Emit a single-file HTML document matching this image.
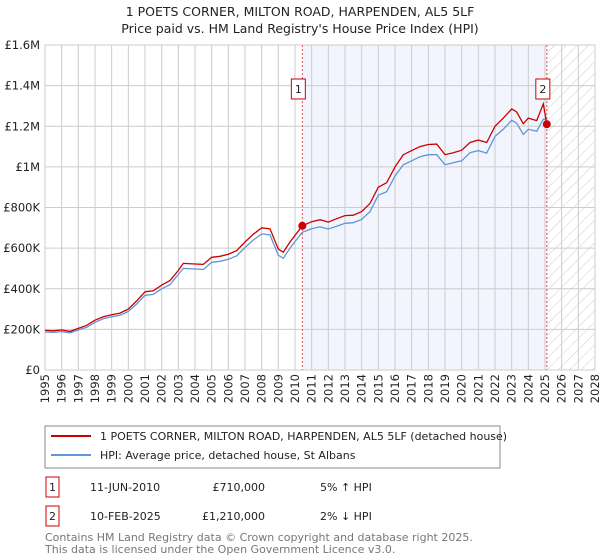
<!DOCTYPE html>
<html><head><meta charset="utf-8"><style>
body{margin:0;background:#fff;font-family:"DejaVu Sans","Liberation Sans",sans-serif;}
svg{display:block}
</style></head><body>
<svg id="c" width="600" height="560" xmlns="http://www.w3.org/2000/svg" font-family="DejaVu Sans, Liberation Sans, sans-serif">
<defs><pattern id="hatch" width="8" height="8" patternUnits="userSpaceOnUse" patternTransform="rotate(45)"><line x1="0" y1="0" x2="0" y2="8" stroke="#ccc" stroke-width="1"/></pattern></defs>
<text x="300" y="16" text-anchor="middle" font-size="12.5" fill="#222">1 POETS CORNER, MILTON ROAD, HARPENDEN, AL5 5LF</text>
<text x="300" y="33" text-anchor="middle" font-size="12.5" fill="#222">Price paid vs. HM Land Registry's House Price Index (HPI)</text>
<g id="plot"></g>
<rect x="45" y="426" width="455" height="42" fill="#fff" stroke="#888"/>
<line x1="51" y1="436" x2="91" y2="436" stroke="#cc0000" stroke-width="2"/>
<text x="100" y="440" font-size="11" fill="#222">1 POETS CORNER, MILTON ROAD, HARPENDEN, AL5 5LF (detached house)</text>
<line x1="51" y1="455" x2="91" y2="455" stroke="#6095d8" stroke-width="2"/>
<text x="100" y="459" font-size="11" fill="#222">HPI: Average price, detached house, St Albans</text>
<rect x="46" y="477" width="13" height="20" fill="#fff" stroke="#cc0000"/>
<text x="52.5" y="491" text-anchor="middle" font-size="11" fill="#222">1</text>
<text x="90" y="491" font-size="11" fill="#222">11-JUN-2010</text>
<text x="265" y="491" text-anchor="end" font-size="11" fill="#222">£710,000</text>
<text x="320" y="491" font-size="11" fill="#222">5% ↑ HPI</text>
<rect x="46" y="506" width="13" height="20" fill="#fff" stroke="#cc0000"/>
<text x="52.5" y="520" text-anchor="middle" font-size="11" fill="#222">2</text>
<text x="90" y="520" font-size="11" fill="#222">10-FEB-2025</text>
<text x="265" y="520" text-anchor="end" font-size="11" fill="#222">£1,210,000</text>
<text x="320" y="520" font-size="11" fill="#222">2% ↓ HPI</text>
<text x="45" y="541" font-size="11" fill="#777">Contains HM Land Registry data © Crown copyright and database right 2025.</text>
<text x="45" y="553" font-size="11" fill="#777">This data is licensed under the Open Government Licence v3.0.</text>
</svg>
<script>
const years=[1995,1995.5,1996,1996.5,1997,1997.5,1998,1998.5,1999,1999.5,2000,2000.5,2001,2001.5,2002,2002.5,2003,2003.3,2004,2004.5,2005,2005.5,2006,2006.5,2007,2007.5,2008,2008.5,2009,2009.3,2009.7,2010.44,2011,2011.5,2012,2012.5,2013,2013.5,2014,2014.5,2015,2015.5,2016,2016.5,2017,2017.5,2018,2018.5,2019,2019.5,2020,2020.5,2021,2021.5,2022,2022.5,2023,2023.3,2023.7,2024,2024.5,2024.9,2025.11];
const propertyValues=[195,193,197,190,205,220,245,262,272,280,300,340,385,390,418,440,490,525,522,520,555,560,570,588,630,668,700,695,595,580,630,710,730,740,728,745,760,762,780,820,900,922,1000,1060,1080,1100,1110,1112,1060,1070,1082,1120,1132,1120,1200,1240,1285,1270,1212,1240,1228,1310,1210];
const hpiValues=[187,185,189,183,197,210,235,252,262,270,288,325,368,372,400,420,470,500,497,495,530,535,545,562,603,640,670,665,565,550,600,678,695,705,694,708,722,725,742,780,860,878,955,1010,1030,1050,1060,1060,1010,1020,1030,1070,1080,1068,1150,1185,1230,1215,1160,1185,1175,1235,1235];
const yTicks=[0,200,400,600,800,1000,1200,1400,1600];
const yTickLabels=["£0","£200K","£400K","£600K","£800K","£1M","£1.2M","£1.4M","£1.6M"];
const xTickYears=[1995,1996,1997,1998,1999,2000,2001,2002,2003,2004,2005,2006,2007,2008,2009,2010,2011,2012,2013,2014,2015,2016,2017,2018,2019,2020,2021,2022,2023,2024,2025,2026,2027,2028];
const sales=[{n:"1",year:2010.44,value:710},{n:"2",year:2025.11,value:1210}];
const L=45,R=595,T=45,B=370;
const X=y=>L+(y-1995)/(2028-1995)*(R-L);
const Y=v=>B-v/1600*(B-T);
const ns="http://www.w3.org/2000/svg";
const g=document.getElementById('plot');
function mk(t,a){const e=document.createElementNS(ns,t);for(const k in a)e.setAttribute(k,a[k]);g.appendChild(e);return e;}
let e;
e=mk('rect',{x:X(sales[0].year),y:T,width:X(sales[1].year)-X(sales[0].year),height:B-T,fill:'#f2f5fd'});


e=mk('rect',{x:X(sales[1].year),y:T,width:R-X(sales[1].year),height:B-T,fill:'url(#hatch)'});


xTickYears.forEach(yr=>{
 e=mk('line',{x1:X(yr),x2:X(yr),y1:T,y2:B,stroke:'#ccc','stroke-width':1});
 
 
 e=mk('text',{x:0,y:0,'font-size':11.5,fill:'#222','text-anchor':'end',transform:`translate(${X(yr)+4},${B+4}) rotate(-90)`});
 e.textContent=yr;
 
 
});
yTicks.forEach((v,i)=>{
 e=mk('line',{x1:L,x2:R,y1:Y(v),y2:Y(v),stroke:'#ccc','stroke-width':1});
 
 
 e=mk('text',{x:L-5,y:Y(v)+4,'font-size':11.5,fill:'#222','text-anchor':'end'});
 e.textContent=yTickLabels[i];
 
 
});
sales.forEach(s=>{
 e=mk('line',{x1:X(s.year),x2:X(s.year),y1:T,y2:B,stroke:'#e05050','stroke-width':1,'stroke-dasharray':'2,2'});
 
 
});
function path(vals){return vals.map((v,i)=>(i?'L':'M')+X(years[i]).toFixed(1)+','+Y(v).toFixed(1)).join('');}
e=mk('path',{d:path(hpiValues),fill:'none',stroke:'#6095d8','stroke-width':1.3});


e=mk('path',{d:path(propertyValues),fill:'none',stroke:'#cc0000','stroke-width':1.3});


sales.forEach(s=>{
 e=mk('circle',{cx:X(s.year),cy:Y(s.value),r:4,fill:'#cc0000'});
 
 
 const bx=X(s.year)-4;
 e=mk('rect',{x:bx-7,y:79,width:14,height:20,fill:'#fff',stroke:'#cc0000'});
 
 
 e=mk('text',{x:bx,y:93,'font-size':11,fill:'#222','text-anchor':'middle'});
 e.textContent=s.n;
 
 
});
</script>
</body></html>
